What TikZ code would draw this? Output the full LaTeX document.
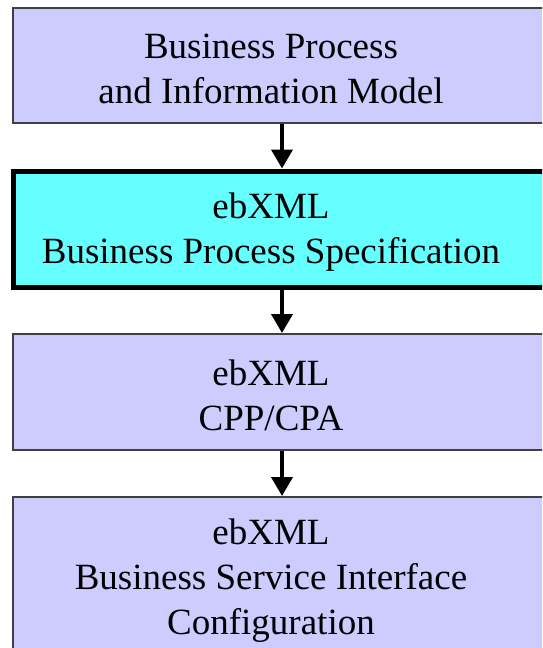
\documentclass[tikz,border=0pt]{standalone}
\usepackage{fontspec}
\setmainfont{Liberation Serif}
\usepackage{xcolor}
\usepackage{tikz}
\usetikzlibrary{arrows.meta}
\definecolor{lavender}{HTML}{CCCCFF}
\definecolor{aqua}{HTML}{66FFFF}
\definecolor{edgegray}{HTML}{404040}
\tikzstyle{flow} = [line width=4pt, -{Triangle[width=21pt,length=19pt]}]

\begin{document}
\begin{tikzpicture}[
				x=1pt, y=-1pt,
				stage/.style={draw=edgegray, line width=2pt, fill=lavender, minimum width=538pt, inner sep=0pt},
				spec/.style={draw=black, line width=5pt, fill=aqua, minimum width=538pt, inner sep=0pt},
				caption/.style={align=center, font=\fontsize{37}{45}\selectfont, xshift=-11pt, yshift=-3pt}
				]
				\useasboundingbox (0,0) rectangle (542,648);
				\clip (0,0) rectangle (542,648);
				
				\node (model) at (282,65.5) [stage, minimum height=115pt, label={[caption]center:Business Process\\and Information Model}] {};
				\node (bpss) at (282,229) [spec, minimum height=116pt, label={[caption]center:ebXML\\Business Process Specification}] {};
				\node (cpp) at (282,392) [stage, minimum height=116pt, label={[caption]center:ebXML\\CPP/CPA}] {};
				\node (bsi) at (282,578) [stage, minimum height=162pt, label={[caption]center:ebXML\\Business Service Interface\\Configuration}] {};
				
				\draw[flow] (model) -- (bpss);
				\draw[flow] (bpss) -- (cpp);
				\draw[flow] (cpp) -- (bsi);
			\end{tikzpicture}
\end{document}
